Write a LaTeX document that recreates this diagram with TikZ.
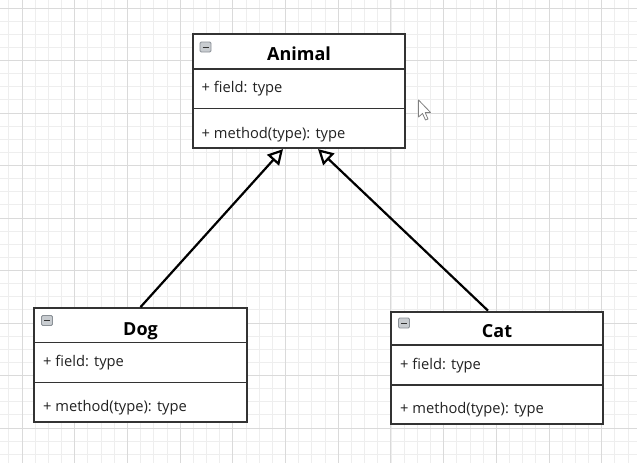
\documentclass[tikz,border=0pt]{standalone}
\usepackage{fontspec}
\setmainfont{Open Sans}
\usetikzlibrary{arrows.meta}
\definecolor{gridminor}{HTML}{EEEEEE}
\definecolor{gridmajor}{HTML}{DADADA}
\definecolor{boxline}{HTML}{333333}
\definecolor{iconfill}{HTML}{C8CCD0}
\definecolor{iconline}{HTML}{8A9096}
\definecolor{txt}{HTML}{222222}
\tikzset{
  classbox/.style={draw=boxline, line width=2.2pt, fill=white, rectangle, inner sep=0pt},
  divider/.style={draw=boxline, line width=1.5pt},
  title/.style={font=\fontsize{18}{21}\selectfont\bfseries, text=black, inner sep=0pt, anchor=base},
  member/.style={font=\fontsize{14.7}{17}\selectfont, text=txt, inner sep=0pt, anchor=base west},
  icon/.style={draw=iconline, fill=iconfill, line width=0.8pt, rounded corners=1.2pt},
  inherit/.style={draw=black, line width=2.2pt, -{Triangle[open, length=15pt, width=16pt, line width=2.2pt]}},
}
\begin{document}
\begin{tikzpicture}[x=1pt,y=-1pt]
\useasboundingbox (0,0) rectangle (637,463);
\fill[white] (0,0) rectangle (637,463);
% grid
\foreach \i in {-1,...,48} {
  \draw[gridminor, line width=0.8pt] ({22+13.175*\i},0) -- ({22+13.175*\i},463);
}
\foreach \i in {-1,...,35} {
  \draw[gridminor, line width=0.8pt] (0,{8+13.125*\i}) -- (637,{8+13.125*\i});
}
\foreach \i in {0,...,11} {
  \draw[gridmajor, line width=1pt] ({22+52.7*\i},0) -- ({22+52.7*\i},463);
}
\foreach \i in {0,...,8} {
  \draw[gridmajor, line width=1pt] (0,{8+52.5*\i}) -- (637,{8+52.5*\i});
}

% Animal
\node[classbox, minimum width=212pt, minimum height=114pt] (animal) at (299,91) {};
\draw[divider] (193,69) -- (405,69);
\draw[divider] (193,108.5) -- (405,108.5);
\draw[icon] (200,42) rectangle (211,52);
\draw[boxline, line width=1pt] (202.5,47) -- (208.5,47);
\node[title] (animaltitle) at (299,60) {Animal};
\node[member] (animalfield) at (201.5,92.5) {+ field: type};
\node[member] (animalmethod) at (201.5,138) {+ method(type): type};

% Dog
\node[classbox, minimum width=212.5pt, minimum height=114pt] (dog) at (140.5,365.2) {};
\draw[divider] (34,342.7) -- (246.7,342.7);
\draw[divider] (34,382.7) -- (246.7,382.7);
\draw[icon] (41.5,315.5) rectangle (52.5,325.5);
\draw[boxline, line width=1pt] (44,320.5) -- (50,320.5);
\node[title] (dogtitle) at (140.5,335) {Dog};
\node[member] (dogfield) at (43,366.5) {+ field: type};
\node[member] (dogmethod) at (43,411.5) {+ method(type): type};

% Cat
\node[classbox, minimum width=211.5pt, minimum height=112.5pt] (cat) at (497,368) {};
\draw[divider] (391,345) -- (602.7,345);
\draw[divider] (391,385) -- (602.7,385);
\draw[icon] (398.5,318) rectangle (409.5,328);
\draw[boxline, line width=1pt] (401,323) -- (407,323);
\node[title] (cattitle) at (497,337.3) {Cat};
\node[member] (catfield) at (400,369) {+ field: type};
\node[member] (catmethod) at (400,413.3) {+ method(type): type};

% connectors
\draw[inherit] (dog.north) -- ([xshift=-16pt]animal.south);
\draw[inherit] ([xshift=-9pt]cat.north) -- ([xshift=19pt]animal.south);

% mouse cursor
\draw[fill=white, draw=gray, line width=0.8pt, line join=round]
  (418.5,100) -- (418.5,117) -- (422.5,113.5) -- (425.5,120) -- (428,119) -- (425.2,112.6) -- (430.5,112.4) -- cycle;
\end{tikzpicture}
\end{document}
